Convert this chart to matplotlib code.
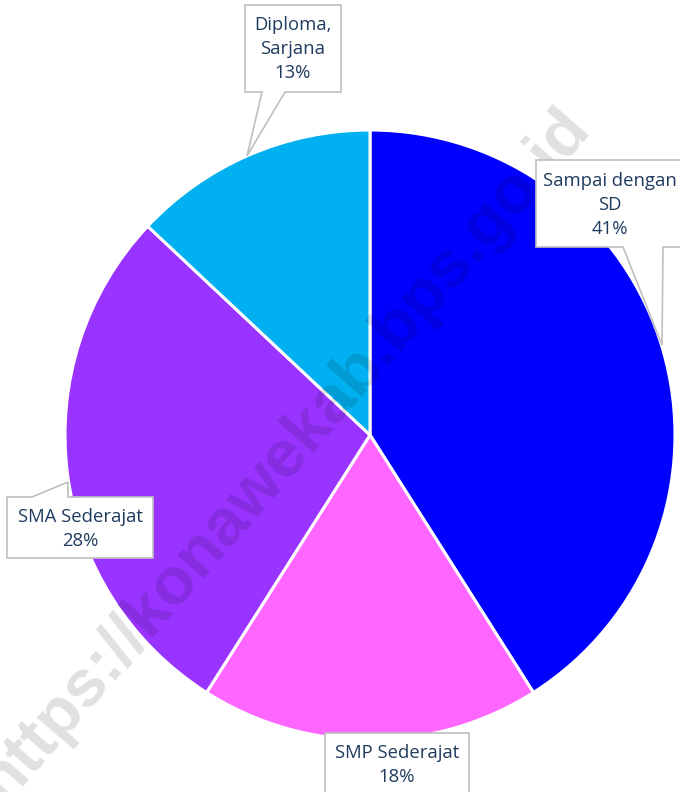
import matplotlib
matplotlib.use("Agg")
import matplotlib.pyplot as plt
from matplotlib.patches import Polygon

labels = ["Sampai dengan\nSD", "SMP Sederajat", "SMA Sederajat", "Diploma,\nSarjana"]
shares = [41, 18, 28, 13]
colors = ["#0000FF", "#FF66FF", "#9933FF", "#00B0F0"]

W, H = 680, 792


def px(x, y):
    # picture pixels (origin top-left) -> data coords
    return (x, H - y)


fig = plt.figure(figsize=(W / 100, H / 100), dpi=100)
ax = fig.add_axes([0, 0, 1, 1])

ax.pie(shares, colors=colors, startangle=90, counterclock=False,
       center=px(370, 435), radius=305,
       wedgeprops=dict(edgecolor="white", linewidth=2.2))

ax.set_xlim(0, W)
ax.set_ylim(0, H)
ax.set_aspect("equal")
ax.set_axis_off()

# watermark
ax.text(*px(285, 455), "https://konawekab.bps.go.id", rotation=49,
        ha="center", va="center", fontsize=48, fontweight="bold",
        family="Liberation Sans", color="black", alpha=0.12, zorder=5)

# callout boxes: outline (with pointer) and text centre
callouts = [
    ([(536, 160), (690, 160), (690, 247), (663, 247), (662, 345), (623, 247), (536, 247)],
     (610, 205)),
    ([(325, 733), (469, 733), (469, 800), (325, 800)],
     (397, 765)),
    ([(7, 497), (32, 497), (68, 482), (68, 497), (153, 497), (153, 558), (7, 558)],
     (80, 529)),
    ([(245, 5), (341, 5), (341, 92), (285, 92), (247, 156), (262, 92), (245, 92)],
     (293, 49)),
]

for (outline, (tx, ty)), lab, s in zip(callouts, labels, shares):
    poly = Polygon([px(*p) for p in outline], closed=True, facecolor="white",
                   edgecolor="#BFBFBF", linewidth=1.2, zorder=6)
    ax.add_patch(poly)
    ax.text(*px(tx, ty), f"{lab}\n{s}%", ha="center", va="center",
            fontsize=13.3, family="Open Sans", color="#1F3B5E",
            linespacing=1.45, zorder=7)

fig.savefig("out.png", dpi=100)
